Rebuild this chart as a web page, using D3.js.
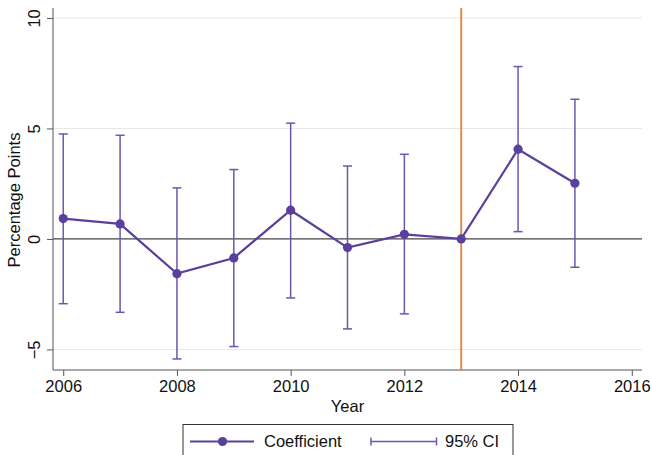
<!DOCTYPE html>
<html>
<head>
<meta charset="utf-8">
<script src="https://cdn.jsdelivr.net/npm/d3@7"></script>
<style>
  body { margin: 0; background: #fff; }
  text { font-family: "Liberation Sans", Arial, sans-serif; fill: #111; }
</style>
</head>
<body>
<script>
// chart values
var years = [2006, 2007, 2008, 2009, 2010, 2011, 2012, 2013, 2014, 2015];
var coef  = [0.92, 0.68, -1.57, -0.86, 1.30, -0.39, 0.21, 0, 4.06, 2.52];
var ciLow = [-2.93, -3.32, -5.43, -4.87, -2.67, -4.07, -3.39, null, 0.33, -1.28];
var ciHigh = [4.75, 4.69, 2.31, 3.14, 5.24, 3.30, 3.83, null, 7.80, 6.32];
var xTicks = [2006, 2008, 2010, 2012, 2014, 2016];
var yTicks = [-5, 0, 5, 10];
var eventYear = 2013;

var width = 652, height = 455;
var fs = 16.5;
var purple = "#5b3f9c", ciColor = "#6e55b0", orange = "#ef7f2a";

var svg = d3.select("body").append("svg")
  .attr("width", width)
  .attr("height", height);

var x = d3.scaleLinear().domain([2005.82, 2016.18]).range([53, 642]);
var y = d3.scaleLinear().domain([-5.93, 10.45]).range([370, 8]);

// gridlines
svg.append("g").selectAll("line")
  .data(yTicks.filter(d => d !== 0))
  .enter().append("line")
  .attr("x1", x.range()[0]).attr("x2", x.range()[1])
  .attr("y1", d => y(d)).attr("y2", d => y(d))
  .attr("stroke", "#e6e6e6").attr("stroke-width", 1);

// zero line
svg.append("line")
  .attr("x1", x.range()[0]).attr("x2", x.range()[1])
  .attr("y1", y(0)).attr("y2", y(0))
  .attr("stroke", "#444").attr("stroke-width", 1.2);

// y axis (tick labels rotated like the original)
var yAxis = svg.append("g")
  .attr("transform", "translate(" + x.range()[0] + ",0)")
  .call(d3.axisLeft(y).tickValues(yTicks).tickSize(6).tickFormat(d3.format("d")));
yAxis.select(".domain").attr("stroke", "#555").attr("d", "M0," + y.range()[1] + "V" + y.range()[0]);
yAxis.selectAll(".tick line").attr("stroke", "#555");
yAxis.selectAll(".tick text")
  .attr("font-size", fs)
  .attr("text-anchor", "middle")
  .attr("x", 0).attr("y", 0).attr("dy", "0.35em")
  .attr("transform", "translate(-19,0) rotate(-90)");

// x axis
var xAxis = svg.append("g")
  .attr("transform", "translate(0," + y.range()[0] + ")")
  .call(d3.axisBottom(x).tickValues(xTicks).tickSize(6).tickPadding(4).tickFormat(d3.format("d")));
xAxis.select(".domain").attr("stroke", "#555").attr("d", "M" + x.range()[0] + ",0H" + x.range()[1]);
xAxis.selectAll(".tick line").attr("stroke", "#555");
xAxis.selectAll(".tick text").attr("font-size", fs);

// axis titles
svg.append("text")
  .attr("x", (x.range()[0] + x.range()[1]) / 2)
  .attr("y", 412)
  .attr("text-anchor", "middle")
  .attr("font-size", fs)
  .text("Year");
svg.append("text")
  .attr("transform", "translate(20,200) rotate(-90)")
  .attr("text-anchor", "middle")
  .attr("font-size", fs)
  .text("Percentage Points");

// event year
svg.append("line")
  .attr("x1", x(eventYear)).attr("x2", x(eventYear))
  .attr("y1", y.range()[1]).attr("y2", y.range()[0])
  .attr("stroke", orange).attr("stroke-width", 1.8);

// confidence intervals
var rows = years.map((yr, i) => ({ year: yr, coef: coef[i], lo: ciLow[i], hi: ciHigh[i] }));
var ci = svg.append("g").attr("stroke", ciColor).attr("stroke-width", 1.5);
rows.filter(d => d.lo != null).forEach(function (d) {
  ci.append("line").attr("x1", x(d.year)).attr("x2", x(d.year)).attr("y1", y(d.lo)).attr("y2", y(d.hi));
  ci.append("line").attr("x1", x(d.year) - 4.5).attr("x2", x(d.year) + 4.5).attr("y1", y(d.lo)).attr("y2", y(d.lo));
  ci.append("line").attr("x1", x(d.year) - 4.5).attr("x2", x(d.year) + 4.5).attr("y1", y(d.hi)).attr("y2", y(d.hi));
});

// coefficient line + markers
svg.append("path")
  .datum(rows)
  .attr("fill", "none")
  .attr("stroke", purple)
  .attr("stroke-width", 2.2)
  .attr("d", d3.line().x(d => x(d.year)).y(d => y(d.coef)));
svg.append("g").selectAll("circle")
  .data(rows)
  .enter().append("circle")
  .attr("cx", d => x(d.year))
  .attr("cy", d => y(d.coef))
  .attr("r", 4.6)
  .attr("fill", purple);

// legend
var lg = svg.append("g");
lg.append("rect")
  .attr("x", 183).attr("y", 424.5)
  .attr("width", 330).attr("height", 40)
  .attr("fill", "#fff").attr("stroke", "#333").attr("stroke-width", 1);
var ly = 441.5;
lg.append("line").attr("x1", 190).attr("x2", 254).attr("y1", ly).attr("y2", ly)
  .attr("stroke", purple).attr("stroke-width", 2.2);
lg.append("circle").attr("cx", 222.5).attr("cy", ly).attr("r", 4.6).attr("fill", purple);
lg.append("text").attr("x", 264).attr("y", ly).attr("dy", "0.35em").attr("font-size", fs).text("Coefficient");
lg.append("line").attr("x1", 371).attr("x2", 436.5).attr("y1", ly).attr("y2", ly)
  .attr("stroke", ciColor).attr("stroke-width", 1.5);
lg.append("line").attr("x1", 371).attr("x2", 371).attr("y1", ly - 4).attr("y2", ly + 4)
  .attr("stroke", ciColor).attr("stroke-width", 1.5);
lg.append("line").attr("x1", 436.5).attr("x2", 436.5).attr("y1", ly - 4).attr("y2", ly + 4)
  .attr("stroke", ciColor).attr("stroke-width", 1.5);
lg.append("text").attr("x", 445).attr("y", ly).attr("dy", "0.35em").attr("font-size", fs).text("95% CI");
</script>
</body>
</html>
